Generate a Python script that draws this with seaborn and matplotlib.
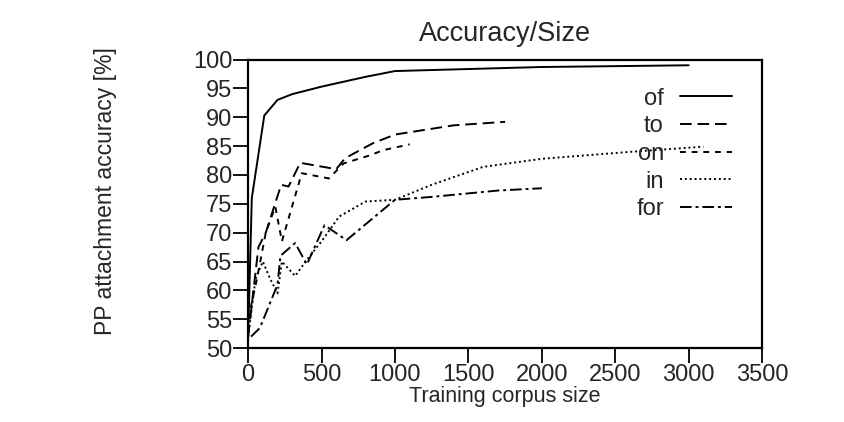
import pandas as pd
import matplotlib.pyplot as plt
import seaborn as sns

# training corpus size / accuracy per preposition
of_x = [0, 25, 110, 200, 300, 500, 800, 1000, 2000, 3000]
of_y = [52, 76, 90.3, 93, 94, 95.3, 97, 98, 98.7, 99]

to_x = [0, 70, 120, 225, 275, 355, 600, 660, 850, 1000, 1400, 1750]
to_y = [52, 67.5, 70, 78.3, 78, 82.1, 81, 82.9, 85.5, 87, 88.6, 89.2]

on_x = [0, 60, 120, 185, 230, 365, 550, 650, 830, 920, 1100]
on_y = [55, 62, 70, 74.5, 68.5, 80.3, 79.4, 82, 83.4, 84.3, 85.3]

in_x = [0, 50, 100, 150, 200, 230, 320, 400, 500, 620, 800, 1000, 1250, 1600, 2000, 2600, 3100]
in_y = [52, 62, 65, 62, 59.5, 65, 62.5, 65.3, 68.5, 72.8, 75.4, 75.7, 78.3, 81.4, 82.8, 84, 84.9]

for_x = [20, 80, 200, 220, 320, 400, 520, 670, 1000, 1250, 1700, 2000]
for_y = [52, 53.5, 61, 66, 68.2, 64.5, 71.3, 68.7, 75.7, 76.2, 77.3, 77.7]

series = [('of', of_x, of_y), ('to', to_x, to_y), ('on', on_x, on_y),
          ('in', in_x, in_y), ('for', for_x, for_y)]
styles = {'of': '-', 'to': (0, (6, 3)), 'on': (0, (3, 3)),
          'in': (0, (1, 1.5)), 'for': (0, (6, 2, 1.5, 2))}

sns.set_style('white')
plt.rcParams['font.family'] = ['Liberation Sans', 'DejaVu Sans']

fig = plt.figure(figsize=(8.44, 4.22), dpi=100)
ax = fig.add_axes([0.294, 0.175, 0.609, 0.684])

for name, xs, ys in series:
    d = pd.DataFrame({'size': xs, 'acc': ys})
    sns.lineplot(data=d, x='size', y='acc', ax=ax, color='black', lw=1.4,
                 sort=False, label=name, linestyle=styles[name])

ax.set_xlim(0, 3500)
ax.set_ylim(50, 100)
ax.set_xticks(range(0, 3501, 500))
ax.set_yticks(range(50, 101, 5))
for s in ax.spines.values():
    s.set_color('black')
    s.set_linewidth(1.6)
ax.tick_params(axis='both', which='major', length=11, width=1.3, color='black',
               labelsize=17, pad=0.5, direction='out', left=True, bottom=True)
ax.set_title('Accuracy/Size', fontsize=19.5, pad=13)
ax.set_xlabel('Training corpus size', fontsize=15.5, labelpad=0)
ax.set_ylabel('PP attachment accuracy [%]', fontsize=16.5)
ax.yaxis.set_label_coords(-0.255, 0.543)

leg = ax.legend(loc='upper right', bbox_to_anchor=(0.974, 0.96), frameon=False,
                markerfirst=False, fontsize=17, handlelength=2.2,
                labelspacing=0.24, handletextpad=0.7, borderaxespad=0.3)
for t in leg.get_texts():
    t.set_ha('right')
leg._legend_box.align = 'right'

fig.savefig('out.png', dpi=100)
